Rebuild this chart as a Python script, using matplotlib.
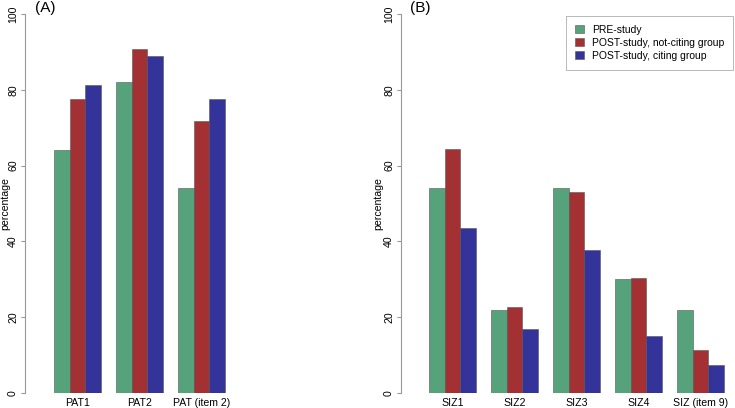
import matplotlib
matplotlib.use("Agg")
import numpy as np
import matplotlib.pyplot as plt
from matplotlib.patches import Patch

plt.rcParams['font.family'] = ['Liberation Sans', 'DejaVu Sans']

# data
series_names = ["PRE-study", "POST-study, not-citing group", "POST-study, citing group"]
colors = ["#55a27b", "#a33134", "#333399"]

pat_labels = ["PAT1", "PAT2", "PAT (item 2)"]
pat_pre = [64.0, 82.1, 54.0]
pat_not_citing = [77.5, 90.7, 71.7]
pat_citing = [81.2, 88.8, 77.5]

siz_labels = ["SIZ1", "SIZ2", "SIZ3", "SIZ4", "SIZ (item 9)"]
siz_pre = [54.0, 21.9, 54.0, 30.1, 22.0]
siz_not_citing = [64.3, 22.7, 53.0, 30.3, 11.3]
siz_citing = [43.5, 16.9, 37.8, 15.1, 7.5]

W, H = 735, 408
PX_UNIT = 15.5  # pixels per bar width


def make_axes(fig, left_px, right_px, first_bar_px):
    # place axes by pixel coords, y: 0 at 393px, 100 at 14px
    ax = fig.add_axes([left_px / W, (H - 393) / H, (right_px - left_px) / W, (393 - 14) / H])
    x0 = 1 - (first_bar_px - left_px) / PX_UNIT
    ax.set_xlim(x0, x0 + (right_px - left_px) / PX_UNIT)
    ax.set_ylim(0, 100)
    return ax


def grouped_bars(ax, labels, groups, left_px, ylabel_px):
    n = len(labels)
    starts = 1 + 4 * np.arange(n)
    for i, vals in enumerate(groups):
        ax.bar(starts + i + 0.5, vals, width=1.0, color=colors[i],
               edgecolor="#555555", linewidth=0.4)
    ax.set_xticks(starts + 1.5)
    ax.set_xticklabels(labels, fontsize=7.6)
    ax.tick_params(axis="x", length=0, pad=3.5)
    ax.set_yticks([0, 20, 40, 60, 80, 100])
    ax.set_yticklabels(["0", "20", "40", "60", "80", "100"], rotation=90, va="center", fontsize=7.6)
    ax.tick_params(axis="y", length=3, color="#999999", pad=2)
    for s in ["top", "right", "bottom"]:
        ax.spines[s].set_visible(False)
    ax.spines["left"].set_color("#999999")
    ax.spines["left"].set_linewidth(0.8)
    ax.spines["left"].set_bounds(0, 100)
    ax.set_ylabel("percentage", fontsize=7.6)
    width_px = ax.get_position().width * W
    ax.yaxis.set_label_coords((ylabel_px - left_px) / width_px, 0.5)
    ax.yaxis.label.set_va("center")
    ax.patch.set_alpha(0)


fig = plt.figure(figsize=(W / 100, H / 100), dpi=100)

ax1 = make_axes(fig, 25, 240, 54)
grouped_bars(ax1, pat_labels, [pat_pre, pat_not_citing, pat_citing], 25, 5)
fig.text(35 / W, 1 - 8 / H, "(A)", fontsize=11, va="center", ha="left")

ax2 = make_axes(fig, 401, 735, 429)
grouped_bars(ax2, siz_labels, [siz_pre, siz_not_citing, siz_citing], 401, 378)
fig.text(410 / W, 1 - 8 / H, "(B)", fontsize=11, va="center", ha="left")

handles = [Patch(facecolor=c, edgecolor="#555555", linewidth=0.4) for c in colors]
leg = ax2.legend(handles, series_names, loc="upper right", bbox_to_anchor=(733 / W, 1 - 16 / H),
                 bbox_transform=fig.transFigure, fontsize=7.5, frameon=True, fancybox=False,
                 handlelength=0.8, handleheight=0.8, handletextpad=0.8, labelspacing=0.3,
                 borderpad=0.85, borderaxespad=0)
leg.get_frame().set_edgecolor("#999999")
leg.get_frame().set_linewidth(0.6)

fig.savefig("out.png", dpi=100)
